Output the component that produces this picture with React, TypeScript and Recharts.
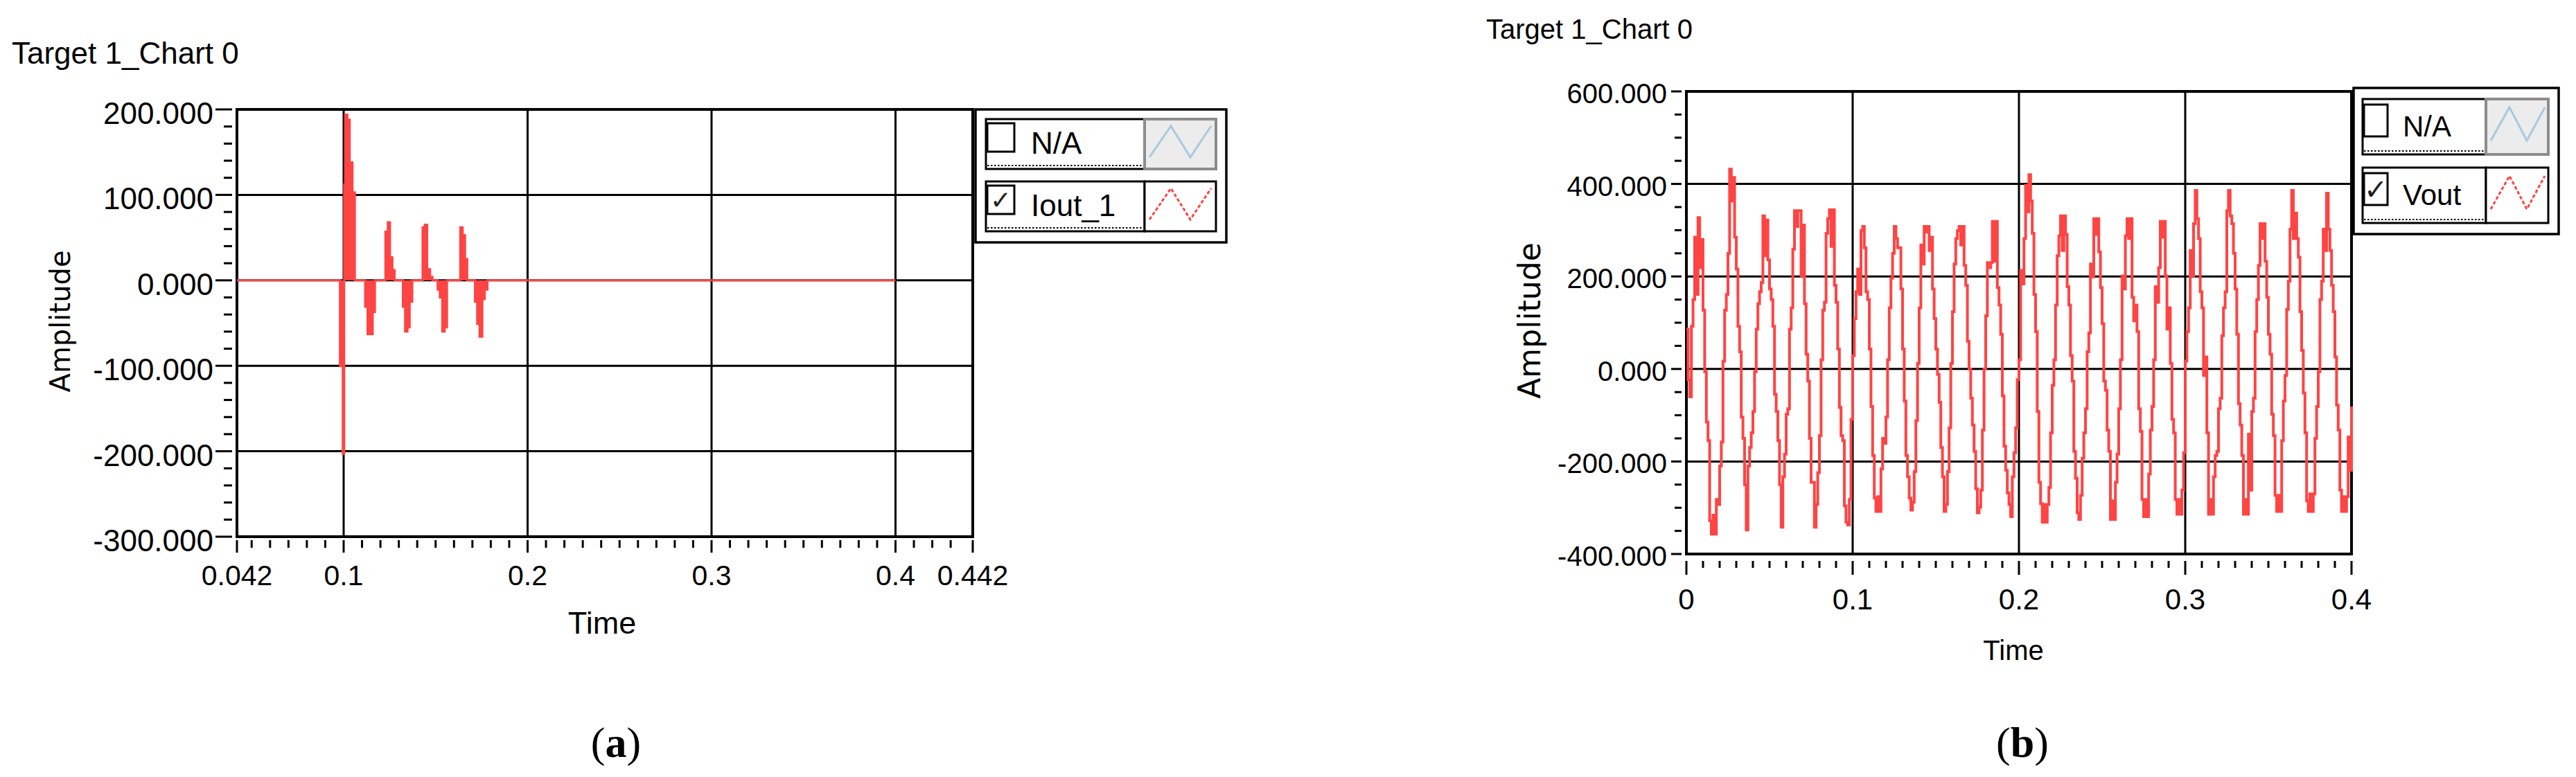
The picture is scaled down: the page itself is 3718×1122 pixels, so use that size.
import React from 'react';
import { ComposedChart, Area, Line, XAxis, YAxis, ReferenceLine, ReferenceArea, Legend } from 'recharts';

// (a) Iout_1, sample-and-hold points
const leftTime = [
  0.042, 0.098, 0.0995, 0.1003, 0.1008, 0.102, 0.1033, 0.1048, 0.1061,
  0.1117, 0.113, 0.1158, 0.117,
  0.1227, 0.124, 0.1252, 0.1265, 0.1277,
  0.1322, 0.1334, 0.1347, 0.1359, 0.1373,
  0.1429, 0.1441, 0.1454, 0.147, 0.1483,
  0.1511, 0.1523, 0.1536, 0.1549, 0.1562,
  0.1634, 0.1647, 0.166, 0.1672,
  0.1714, 0.1726, 0.1739, 0.1754, 0.1767, 0.1782, 0.4,
];
const leftIout = [
  0, -100, -203, 112, 194, 188, 138, 103, 0,
  -31, -63, -37, 0,
  57, 68, 27, 12, 0,
  -31, -60, -55, -25, 0,
  62, 65, 13, 4, 0,
  -11, -20, -60, -55, 0,
  62, 53, 25, 0,
  -25, -51, -66, -22, -11, 0, 0,
];

// (b) Vout, one value per millisecond from 0 to 0.4 s
const vOut = [
  // 0.000 - 0.099
  86, -23, -60, 92, 150, 285, 161, 327, 219, 280,
  127, -6, -115, -155, -328, -357, -316, -357, -282, -293,
  -210, -158, 17, 127, 161, 250, 432, 363, 414, 285,
  216, 92, 37, -104, -150, -250, -348, -210, -170, -138,
  -92, -6, 86, 141, 167, 187, 331, 245, 322, 236,
  173, 150, 92, -55, -92, -155, -250, -342, -233, -184,
  -98, -86, 86, 132, 259, 342, 308, 342, 342, 201,
  311, 141, 32, -26, -150, -245, -245, -342, -293, -224,
  -144, 20, 127, 144, 293, 325, 344, 265, 344, 181,
  144, 43, -83, -144, -155, -296, -331, -337, -282, -109,
  // 0.100 - 0.199
  29, 109, 167, 216, 161, 299, 308, 262, 167, 150,
  43, -81, -187, -279, -308, -276, -308, -216, -150, -161,
  -104, 20, 132, 196, 250, 308, 282, 262, 262, 173,
  43, -69, -187, -233, -279, -305, -288, -222, -112, 12,
  132, 268, 227, 308, 296, 308, 256, 285, 173, 109,
  43, -12, -72, -170, -233, -308, -293, -222, -127, 12,
  124, 227, 282, 299, 308, 268, 308, 224, 181, 60,
  0, -63, -121, -178, -259, -311, -299, -262, -132, 0,
  115, 230, 219, 230, 319, 233, 319, 176, 138, 75,
  -58, -167, -219, -268, -293, -319, -233, -181, -127, -23,
  // 0.200 - 0.299
  20, 213, 184, 282, 397, 340, 420, 363, 293, 161,
  81, -92, -245, -291, -331, -293, -331, -293, -256, -138,
  -35, 20, 138, 245, 288, 331, 256, 331, 291, 178,
  138, 29, -26, -178, -236, -311, -325, -273, -193, -138,
  -86, 37, 78, 227, 199, 325, 291, 325, 253, 176,
  98, -26, -46, -132, -178, -325, -285, -325, -245, -184,
  -86, 20, 201, 173, 288, 325, 282, 325, 155, 104,
  138, 81, -86, -135, -282, -319, -282, -319, -227, -132,
  -81, 20, 178, 144, 219, 319, 285, 319, 201, 86,
  132, 12, -109, -138, -282, -314, -282, -314, -262, -181,
  // 0.300 - 0.400
  17, 81, 132, 256, 201, 314, 386, 325, 282, 167,
  132, -14, 26, -138, -314, -282, -314, -233, -187, -178,
  -86, -63, 72, 132, 167, 342, 386, 331, 314, 250,
  173, 75, -75, -121, -187, -314, -282, -314, -141, -262,
  -92, -63, 81, 150, 224, 314, 282, 314, 233, 155,
  75, 32, -98, -144, -273, -308, -273, -308, -155, -69,
  -14, 129, 190, 302, 386, 282, 337, 282, 242, 124,
  40, -52, -138, -285, -308, -270, -308, -270, -150, -81,
  -6, 150, 190, 302, 256, 380, 302, 256, 181, 124,
  26, -78, -132, -262, -308, -276, -308, -276, -147, -219,
  -81,
];

const leftXMajor = [0.042, 0.1, 0.2, 0.3, 0.4, 0.442];
const leftYMajor = [-300, -200, -100, 0, 100, 200];
const rightXMajor = [0, 0.1, 0.2, 0.3, 0.4];
const rightYMajor = [-400, -200, 0, 200, 400, 600];

const leftLegend = ['N/A', 'Iout_1'];
const rightLegend = ['N/A', 'Vout'];
const chartTitle = 'Target 1_Chart 0';
const panelLabels = ['a', 'b'];

const RED = '#ff4444';
const FONT = '"Liberation Sans", Arial, sans-serif';

const steps = (from: number, to: number, step: number) => {
  const out: number[] = [];
  for (let v = from; v <= to + 1e-9; v += step) out.push(Math.round(v * 1e6) / 1e6);
  return out;
};
const merge = (a: number[], b: number[]) =>
  Array.from(new Set([...a, ...b].map((v) => Math.round(v * 1e6) / 1e6))).sort((p, q) => p - q);

const leftXTicks = merge(leftXMajor, steps(0.05, 0.43, 0.01));
const leftYTicks = merge(leftYMajor, steps(-300, 200, 20));
const rightXTicks = merge(rightXMajor, steps(0, 0.4, 0.01));
const rightYTicks = merge(rightYMajor, steps(-400, 600, 50));

const leftData = leftTime.map((t, i) => ({ t, i: leftIout[i] }));
const rightData = vOut.map((v, k) => ({ t: k / 1000, v }));

const isMajor = (v: number, majors: number[]) => majors.some((m) => Math.abs(m - v) < 1e-7);

type TickOpt = { major: number; minor: number; gap: number; textGap: number; dy: number; fs: number };

const yTick = (majors: number[], o: TickOpt) => (p: any) => {
  const { x, y, payload } = p;
  const big = isMajor(payload.value, majors);
  return (
    <g>
      <line x1={x - (big ? o.major : o.minor)} x2={x - o.gap} y1={y} y2={y} stroke="#000" strokeWidth={3} />
      {big && (
        <text x={x - o.textGap} y={y + o.dy} textAnchor="end" fontSize={o.fs} fontFamily={FONT} fill="#000">
          {Number(payload.value).toFixed(3)}
        </text>
      )}
    </g>
  );
};

const xTick = (majors: number[], o: TickOpt) => (p: any) => {
  const { x, y, payload } = p;
  const big = isMajor(payload.value, majors);
  return (
    <g>
      <line x1={x} x2={x} y1={y + o.gap} y2={y + (big ? o.major : o.minor)} stroke="#000" strokeWidth={3} />
      {big && (
        <text x={x} y={y + o.dy} textAnchor="middle" fontSize={o.fs} fontFamily={FONT} fill="#000">
          {String(payload.value)}
        </text>
      )}
    </g>
  );
};

type LegendGeo = {
  w: number; h: number;
  rows: number[]; rowH: number;
  cellX: number; cellW: number; swW: number;
  cbX: number; cbW: number; cbDy: number; cbH: number;
  textX: number; textDy: number; fs: number;
  zigX: number[]; zigLo: number; zigHi: number;
};

function LegendPanel({ g, labels }: { g: LegendGeo; labels: string[] }) {
  return (
    <svg width={g.w} height={g.h} style={{ display: 'block' }}>
      <rect x={2} y={2} width={g.w - 4} height={g.h - 4} fill="#fff" stroke="#000" strokeWidth={3.5} />
      {labels.map((label, idx) => {
        const top = g.rows[idx];
        const on = idx > 0;
        const swX = g.cellX + g.cellW;
        const zig = g.zigX
          .map((zx, j) => `${zx},${top + (j % 2 === 0 ? g.zigLo : g.zigHi)}`)
          .join(' ');
        return (
          <g key={label + idx}>
            <rect x={g.cellX} y={top} width={g.cellW} height={g.rowH} fill="#fff" stroke="#000" strokeWidth={3} />
            <line
              x1={g.cellX + 2} x2={swX - 2} y1={top + g.rowH - 5} y2={top + g.rowH - 5}
              stroke="#000" strokeWidth={2} strokeDasharray="2.5 2.5"
            />
            <rect x={g.cellX + 2} y={top + g.cbDy} width={g.cbW} height={g.cbH} fill="#fff" stroke="#000" strokeWidth={3} />
            {on && (
              <text
                x={g.cellX + 2 + g.cbW / 2} y={top + g.cbDy + g.cbH * 0.82}
                textAnchor="middle" fontSize={g.cbH * 0.9} fontFamily='"DejaVu Sans", sans-serif' fill="#222"
              >
                ✓
              </text>
            )}
            <text x={g.textX} y={top + g.textDy} fontSize={g.fs} fontFamily={FONT} fill="#000">
              {label}
            </text>
            <rect
              x={swX} y={top} width={g.swW} height={g.rowH}
              fill={on ? '#fff' : '#ececec'} stroke={on ? '#000' : '#8c8c8c'} strokeWidth={on ? 3 : 4}
            />
            <polyline
              points={zig} fill="none" stroke={on ? RED : '#a9c9de'} strokeWidth={3}
              strokeDasharray={on ? '5 3' : undefined}
            />
          </g>
        );
      })}
    </svg>
  );
}

const leftLegendGeo: LegendGeo = {
  w: 366, h: 196, rows: [16, 106], rowH: 72,
  cellX: 17, cellW: 229, swW: 103,
  cbX: 19, cbW: 39, cbDy: 6, cbH: 41,
  textX: 82, textDy: 50, fs: 44,
  zigX: [253, 284, 312, 342], zigLo: 55, zigHi: 10,
};

const rightLegendGeo: LegendGeo = {
  w: 300, h: 215, rows: [18, 117], rowH: 80,
  cellX: 15, cellW: 178, swW: 90,
  cbX: 18, cbW: 34, cbDy: 8, cbH: 46,
  textX: 73, textDy: 54, fs: 42,
  zigX: [200, 227, 252, 278], zigLo: 60, zigHi: 12,
};

export default function App() {
  return (
    <div style={{ position: 'fixed', left: 0, top: 0, width: 3718, height: 1122, background: '#fff', overflow: 'hidden' }}>
      {/* (a) */}
      <div style={{ position: 'absolute', left: 0, top: 0 }}>
        <ComposedChart width={1800} height={1122} data={leftData} margin={{ top: 158, right: 396, bottom: 247, left: 42 }}>
          <XAxis
            dataKey="t" type="number" domain={[0.042, 0.442]} ticks={leftXTicks} interval={0}
            axisLine={false} tickLine={false} tickSize={0} tickMargin={0} height={100}
            tick={xTick(leftXMajor, { major: 23, minor: 16, gap: 5, textGap: 0, dy: 70, fs: 41 })}
          />
          <YAxis
            type="number" domain={[-300, 200]} ticks={leftYTicks} interval={0}
            axisLine={false} tickLine={false} tickSize={0} tickMargin={0} width={300}
            tick={yTick(leftYMajor, { major: 31, minor: 19, gap: 7, textGap: 34, dy: 21, fs: 44 })}
          />
          {[0.1, 0.2, 0.3, 0.4].map((v) => (
            <ReferenceLine key={'lx' + v} x={v} stroke="#000" strokeWidth={3} zIndex={50} />
          ))}
          {[-200, -100, 0, 100].map((v) => (
            <ReferenceLine key={'ly' + v} y={v} stroke="#000" strokeWidth={3} zIndex={50} />
          ))}
          <ReferenceArea x1={0.042} x2={0.442} y1={-300} y2={200} fill="none" stroke="#000" strokeWidth={4} zIndex={50} />
          <Area
            type="stepAfter" dataKey="i" name="Iout_1" baseValue={0}
            stroke={RED} strokeWidth={3} fill={RED} fillOpacity={1}
            dot={false} activeDot={false} isAnimationActive={false}
          />
          <Legend
            layout="horizontal" verticalAlign="middle" align="center"
            wrapperStyle={{ left: 1406, top: 156, width: 366, height: 196 }}
            content={() => <LegendPanel g={leftLegendGeo} labels={leftLegend} />}
          />
        </ComposedChart>
      </div>

      {/* (b) */}
      <div style={{ position: 'absolute', left: 1800, top: 0 }}>
        <ComposedChart width={1918} height={1122} data={rightData} margin={{ top: 132, right: 324, bottom: 222, left: 334 }}>
          <XAxis
            dataKey="t" type="number" domain={[0, 0.4]} ticks={rightXTicks} interval={0}
            axisLine={false} tickLine={false} tickSize={0} tickMargin={0} height={100}
            tick={xTick(rightXMajor, { major: 30, minor: 20, gap: 10, textGap: 0, dy: 80, fs: 42 })}
          />
          <YAxis
            type="number" domain={[-400, 600]} ticks={rightYTicks} interval={0}
            axisLine={false} tickLine={false} tickSize={0} tickMargin={0} width={300}
            tick={yTick(rightYMajor, { major: 22, minor: 17, gap: 7, textGap: 28, dy: 17, fs: 40 })}
          />
          {[0.1, 0.2, 0.3].map((v) => (
            <ReferenceLine key={'rx' + v} x={v} stroke="#000" strokeWidth={3} zIndex={50} />
          ))}
          {[-200, 0, 200, 400].map((v) => (
            <ReferenceLine key={'ry' + v} y={v} stroke="#000" strokeWidth={3} zIndex={50} />
          ))}
          <ReferenceArea x1={0} x2={0.4} y1={-400} y2={600} fill="none" stroke="#000" strokeWidth={4} zIndex={50} />
          <Line
            type="stepAfter" dataKey="v" name="Vout" stroke={RED} strokeWidth={4}
            dot={false} activeDot={false} isAnimationActive={false}
          />
          <Legend
            layout="horizontal" verticalAlign="middle" align="center"
            wrapperStyle={{ left: 1595, top: 125, width: 300, height: 215 }}
            content={() => <LegendPanel g={rightLegendGeo} labels={rightLegend} />}
          />
        </ComposedChart>
      </div>

      {/* titles, axis names, panel letters */}
      <svg width={3718} height={1122} style={{ position: 'absolute', left: 0, top: 0, pointerEvents: 'none' }}>
        <text x={17} y={92} fontSize={44} fontFamily={FONT} fill="#000">{chartTitle}</text>
        <text x={2145} y={56} fontSize={40} fontFamily={FONT} fill="#000">{chartTitle}</text>
        <text
          transform="translate(101,464) rotate(-90)" textAnchor="middle"
          fontSize={40} fontFamily='"DejaVu Sans", sans-serif' fill="#000"
        >
          Amplitude
        </text>
        <text
          transform="translate(2223,463) rotate(-90)" textAnchor="middle"
          fontSize={44} fontFamily='"DejaVu Sans", sans-serif' fill="#000"
        >
          Amplitude
        </text>
        <text x={869} y={915} textAnchor="middle" fontSize={45} fontFamily={FONT} fill="#000">Time</text>
        <text x={2906} y={953} textAnchor="middle" fontSize={40} fontFamily={FONT} fill="#000">Time</text>
        {panelLabels.map((p, idx) => (
          <text
            key={p} x={idx === 0 ? 889 : 2919} y={1093} textAnchor="middle"
            fontSize={62} fontFamily='"Liberation Serif", "Times New Roman", serif' fill="#000"
          >
            (<tspan fontWeight="bold">{p}</tspan>)
          </text>
        ))}
      </svg>
    </div>
  );
}
